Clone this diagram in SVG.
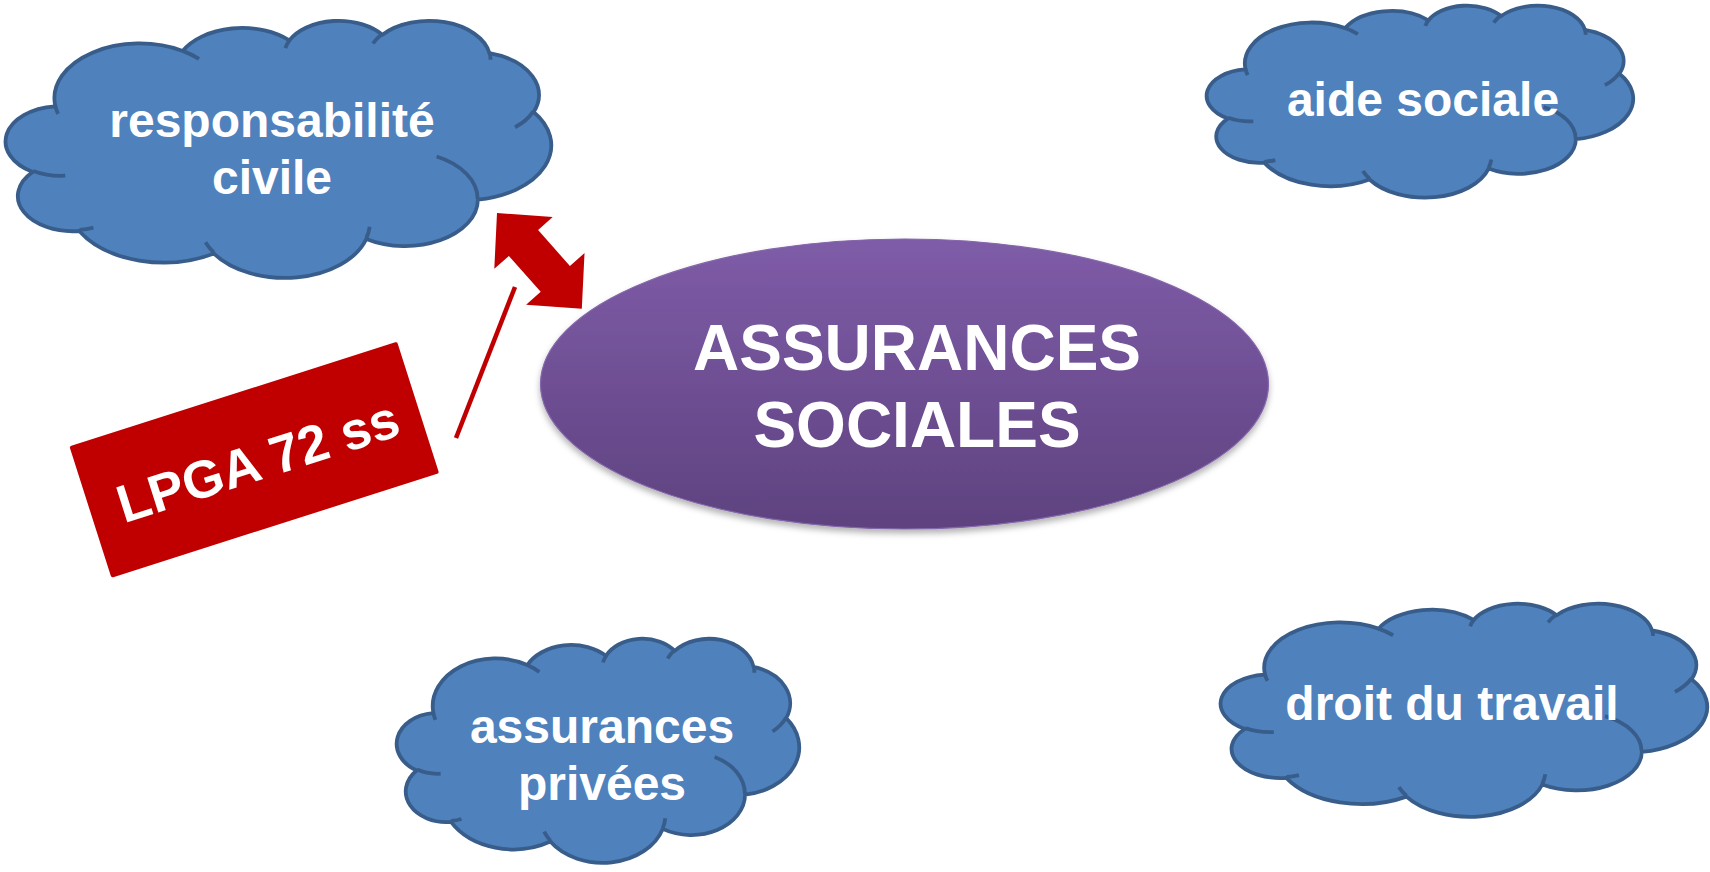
<svg xmlns="http://www.w3.org/2000/svg" xmlns:xlink="http://www.w3.org/1999/xlink" width="1710" height="872" viewBox="0 0 1710 872">
  <style>
    .cloud { fill: #4F81BD; stroke: #385D8A; stroke-width: 3.8; stroke-linejoin: round; }
    .crease { fill: none; stroke: #385D8A; stroke-width: 3.8; }
    .lbl { font-family: "Liberation Sans", Arial, sans-serif; font-weight: bold; fill: #FFFFFF; text-anchor: middle; }
    .cl { font-size: 48px; }
    .big { font-size: 64px; }
    .red { fill: #C00000; }
  </style>
  <defs>
    <!-- cloud outline in a 43200 x 43200 frame -->
    <path id="cloudOutline" vector-effect="non-scaling-stroke" d="M 3900 14370 A 6753 9190 0 0 1 14005 5202 A 5333 7267 0 0 1 22457 3432 A 4365 5945 0 0 1 29835 2482 A 4857 6595 0 0 1 38320 5577 A 5333 7273 0 0 1 41821 15460 A 6775 9220 0 0 1 37405 30201 A 5785 7867 0 0 1 28557 36811 A 6752 9215 0 0 1 16482 39264 A 7720 10543 0 0 1 5805 35469 A 4360 5918 0 0 1 2113 25549 A 4345 5945 0 0 1 3863 14505 Z"/>
    <!-- inner fold lines of the cloud -->
    <path id="cloudCreases" vector-effect="non-scaling-stroke" d="M 4693 26177 A 4345 5945 0 0 1 2160 25380 M 6928 34899 A 4360 5918 0 0 1 5820 35280 M 16478 39090 A 6752 9215 0 0 1 15810 37349 M 28827 34751 A 6752 9215 0 0 1 28560 36660 M 34129 22954 A 5785 7867 0 0 1 37381 30090 M 41798 15354 A 5333 7273 0 0 1 40350 18031 M 38324 5426 A 4857 6595 0 0 1 38401 6690 M 29078 3952 A 4857 6595 0 0 1 29820 2340 M 22141 4720 A 4365 5945 0 0 1 22500 3331 M 14000 5192 A 6753 9190 0 0 1 15301 6542 M 4127 15789 A 6753 9190 0 0 1 3900 14371"/>
    <linearGradient id="purple" x1="0" y1="0" x2="0" y2="1">
      <stop offset="0" stop-color="#7F5CA8"/>
      <stop offset="1" stop-color="#5E427F"/>
    </linearGradient>
    <filter id="softShadow" x="-10%" y="-20%" width="120%" height="150%">
      <feGaussianBlur in="SourceAlpha" stdDeviation="3"/>
      <feOffset dx="0" dy="4" result="b"/>
      <feFlood flood-color="#000000" flood-opacity="0.3"/>
      <feComposite in2="b" operator="in"/>
      <feMerge>
        <feMergeNode/>
        <feMergeNode in="SourceGraphic"/>
      </feMerge>
    </filter>
  </defs>

  <rect width="1710" height="872" fill="#FFFFFF"/>

  <!-- connectors -->
  <g id="connectors">
    <polygon class="red" transform="translate(497,213) rotate(48.5)" points="0,0 40,-39 40,-19.5 88,-19.5 88,-39 128,0 88,39 88,19.5 40,19.5 40,39"/>
    <line x1="515" y1="287" x2="456" y2="438" stroke="#C00000" stroke-width="4.5"/>
  </g>

  <g id="node-responsabilite">
    <g transform="translate(6,20) scale(0.012616,0.005949)">
      <use xlink:href="#cloudOutline" class="cloud"/>
      <use xlink:href="#cloudCreases" class="crease"/>
    </g>
    <text class="lbl cl" x="272" y="137">responsabilité</text>
    <text class="lbl cl" x="272" y="194">civile</text>
  </g>

  <g id="node-aide-sociale">
    <g transform="translate(1207,5) scale(0.009861,0.004444)">
      <use xlink:href="#cloudOutline" class="cloud"/>
      <use xlink:href="#cloudCreases" class="crease"/>
    </g>
    <text class="lbl cl" x="1423" y="116">aide sociale</text>
  </g>

  <g id="node-droit-travail">
    <g transform="translate(1221,603) scale(0.01125,0.004931)">
      <use xlink:href="#cloudOutline" class="cloud"/>
      <use xlink:href="#cloudCreases" class="crease"/>
    </g>
    <text class="lbl cl" x="1452" y="720">droit du travail</text>
  </g>

  <g id="node-assurances-privees">
    <g transform="translate(397,638) scale(0.009306,0.005185)">
      <use xlink:href="#cloudOutline" class="cloud"/>
      <use xlink:href="#cloudCreases" class="crease"/>
    </g>
    <text class="lbl cl" x="602" y="743">assurances</text>
    <text class="lbl cl" x="602" y="800">privées</text>
  </g>

  <g id="node-assurances-sociales">
    <ellipse cx="904.5" cy="384" rx="364" ry="145" fill="url(#purple)" stroke="#8466AA" stroke-width="1.2" filter="url(#softShadow)"/>
    <text class="lbl big" x="917" y="370">ASSURANCES</text>
    <text class="lbl big" x="917" y="447">SOCIALES</text>
  </g>

  <g id="node-lpga" transform="translate(254.25,459.75) rotate(-17.7)">
    <rect class="red" x="-172" y="-69" width="344" height="138" rx="2"/>
    <text class="lbl" x="3" y="21" font-size="53">LPGA 72 ss</text>
  </g>
</svg>
